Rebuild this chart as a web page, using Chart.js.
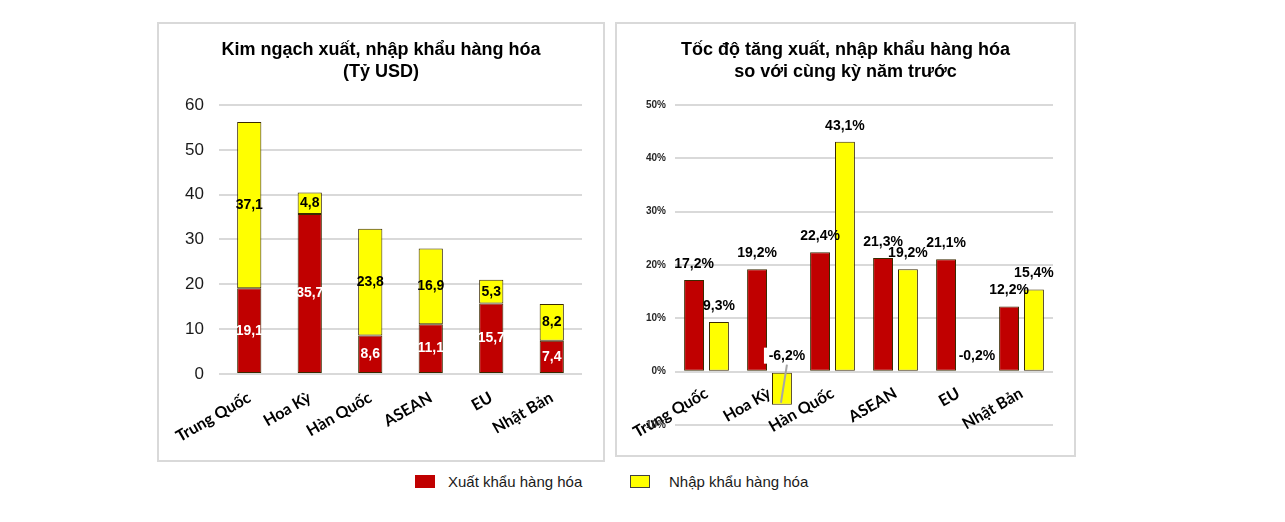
<!DOCTYPE html>
<html>
<head>
<meta charset="utf-8">
<script src="https://cdn.jsdelivr.net/npm/chart.js@4.4.1/dist/chart.umd.min.js"></script>
<style>
  html, body { margin:0; padding:0; background:#fff; }
  body { width:1285px; height:522px; position:relative; overflow:hidden; font-family: Arial, "Liberation Sans", sans-serif; }
  .box { position:absolute; box-sizing:border-box; border:2px solid #d9d9d9; background:#fff; }
  canvas { position:absolute; }
  .lg-box { position:absolute; width:20px; height:13px; box-sizing:border-box; }
  .lg-text { position:absolute; font-family: Arial, "Liberation Sans", sans-serif; font-size:15px; color:#1a1a1a; line-height:18px; white-space:nowrap; }
</style>
</head>
<body>
<div class="box" style="left:157px;top:22px;width:448px;height:440px;"></div>
<div class="box" style="left:615px;top:22px;width:461px;height:435px;"></div>
<canvas id="c1" width="448" height="440" style="left:157px;top:22px;"></canvas>
<canvas id="c2" width="461" height="435" style="left:615px;top:22px;"></canvas>

<div class="lg-box" style="left:415px;top:475px;background:#C00000;"></div>
<div class="lg-text" style="left:448px;top:473px;">Xuất khẩu hàng hóa</div>
<div class="lg-box" style="left:630px;top:475px;background:#FFFF00;border:1px solid #404040;"></div>
<div class="lg-text" style="left:669px;top:473px;">Nhập khẩu hàng hóa</div>

<script>
const categories = ['Trung Quốc', 'Hoa Kỳ', 'Hàn Quốc', 'ASEAN', 'EU', 'Nhật Bản'];
const exportValues = [19.1, 35.7, 8.6, 11.1, 15.7, 7.4];
const importValues = [37.1, 4.8, 23.8, 16.9, 5.3, 8.2];
const exportGrowth = [17.2, 19.2, 22.4, 21.3, 21.1, 12.2];
const importGrowth = [9.3, -6.2, 43.1, 19.2, -0.2, 15.4];
const valueTicks = [0, 10, 20, 30, 40, 50, 60];
const growthTicks = [-10, 0, 10, 20, 30, 40, 50];
const seriesNames = ['Xuất khẩu hàng hóa', 'Nhập khẩu hàng hóa'];
const titleLeft = ['Kim ngạch xuất, nhập khẩu hàng hóa', '(Tỷ USD)'];
const titleRight = ['Tốc độ tăng xuất, nhập khẩu hàng hóa', 'so với cùng kỳ năm trước'];

const RED = '#C00000', YELLOW = '#FFFF00', EDGE = '#3a2a00';
const fmt = v => v.toFixed(1).replace('.', ',');

const stackLabels = {
  id: 'stackLabels',
  afterDatasetsDraw(chart) {
    const ctx = chart.ctx;
    ctx.save();
    ctx.font = 'bold 14px Arial';
    ctx.textAlign = 'center';
    ctx.textBaseline = 'middle';
    chart.data.datasets.forEach((ds, i) => {
      const meta = chart.getDatasetMeta(i);
      meta.data.forEach((bar, j) => {
        ctx.fillStyle = i === 0 ? '#ffffff' : '#000000';
        ctx.fillText(fmt(ds.data[j]), bar.x, (bar.y + bar.base) / 2);
      });
    });
    ctx.restore();
  }
};

const growthLabels = {
  id: 'growthLabels',
  afterDatasetsDraw(chart) {
    const ctx = chart.ctx;
    const zero = chart.scales.y.getPixelForValue(0);
    ctx.save();
    ctx.font = 'bold 14px Arial';
    ctx.textAlign = 'center';
    ctx.textBaseline = 'middle';
    chart.data.datasets.forEach((ds, i) => {
      const meta = chart.getDatasetMeta(i);
      meta.data.forEach((bar, j) => {
        const v = ds.data[j];
        const top = Math.min(bar.y, zero);
        const ly = top - 16;
        if (v < 0 && bar.y - zero > 20) {
          ctx.strokeStyle = '#a6a6a6';
          ctx.lineWidth = 2;
          ctx.beginPath();
          ctx.moveTo(bar.x + 5, ly + 9);
          ctx.lineTo(bar.x - 1, bar.y - 2);
          ctx.stroke();
          ctx.fillStyle = '#ffffff';
          ctx.fillRect(bar.x - 18, ly - 8, 42, 16);
          ctx.fillStyle = '#000000';
          ctx.fillText(fmt(v) + '%', bar.x + 5, ly);
        } else {
          ctx.fillStyle = '#000000';
          ctx.fillText(fmt(v) + '%', bar.x + (v < 0 ? 6 : 0), ly);
        }
      });
    });
    ctx.restore();
  }
};

const catFont = { family: 'Lato, "Open Sans", sans-serif', size: 16, weight: 'bold' };
const titleFont = { family: 'Arial', size: 18, weight: 'bold', lineHeight: 1.222 };

new Chart(document.getElementById('c1'), {
  type: 'bar',
  data: {
    labels: categories,
    datasets: [
      { label: seriesNames[0], data: exportValues, backgroundColor: RED, borderColor: EDGE, borderWidth: 1, borderSkipped: false, stack: 's' },
      { label: seriesNames[1], data: importValues, backgroundColor: YELLOW, borderColor: EDGE, borderWidth: 1, borderSkipped: false, stack: 's' }
    ]
  },
  options: {
    responsive: false, animation: false, devicePixelRatio: 1,
    layout: { padding: 0 },
    datasets: { bar: { categoryPercentage: 1, barPercentage: 0.4 } },
    plugins: {
      legend: { display: false }, tooltip: { enabled: false },
      title: { display: true, text: titleLeft, font: titleFont, color: '#000', padding: { top: 17, bottom: 22 } }
    },
    scales: {
      x: {
        stacked: true, grid: { display: false }, border: { display: false },
        ticks: { maxRotation: 30, minRotation: 30, font: catFont, color: '#000', padding: 6 },
        afterFit(s) { s.height = 88; s.paddingLeft = 0; s.paddingRight = 23; }
      },
      y: {
        stacked: true, min: 0, max: 60,
        afterBuildTicks(s) { s.ticks = valueTicks.map(v => ({ value: v })); },
        grid: { color: '#d9d9d9', lineWidth: 2, drawTicks: false },
        border: { display: false },
        ticks: { padding: 15, font: { family: 'Arial', size: 17 }, color: '#1a1a1a' },
        afterFit(s) { s.width = 62; }
      }
    }
  },
  plugins: [stackLabels]
});

new Chart(document.getElementById('c2'), {
  type: 'bar',
  data: {
    labels: categories,
    datasets: [
      { label: seriesNames[0], data: exportGrowth, backgroundColor: RED, borderColor: EDGE, borderWidth: 1, borderSkipped: false },
      { label: seriesNames[1], data: importGrowth, backgroundColor: YELLOW, borderColor: EDGE, borderWidth: 1, borderSkipped: false }
    ]
  },
  options: {
    responsive: false, animation: false, devicePixelRatio: 1,
    layout: { padding: { left: 0, right: 0, top: 0, bottom: 32 } },
    datasets: { bar: { categoryPercentage: 0.79, barPercentage: 0.8 } },
    plugins: {
      legend: { display: false }, tooltip: { enabled: false },
      title: { display: true, text: titleRight, font: titleFont, color: '#000', padding: { top: 17, bottom: 22 } }
    },
    scales: {
      x: {
        position: { y: 0 },
        grid: { display: false }, border: { display: false },
        ticks: { maxRotation: 30, minRotation: 30, font: catFont, color: '#000', padding: 4 },
        afterFit(s) { s.height = 0; s.paddingLeft = 0; s.paddingRight = 23; }
      },
      y: {
        min: -10, max: 50,
        afterBuildTicks(s) { s.ticks = growthTicks.map(v => ({ value: v })); },
        grid: { color: '#d9d9d9', lineWidth: 2, drawTicks: false },
        border: { display: false },
        ticks: { padding: 9, font: { family: 'Arial', size: 10, weight: 'bold' }, color: '#262626', callback: v => v + '%' },
        afterFit(s) { s.width = 60; }
      }
    }
  },
  plugins: [growthLabels]
});
</script>
</body>
</html>
